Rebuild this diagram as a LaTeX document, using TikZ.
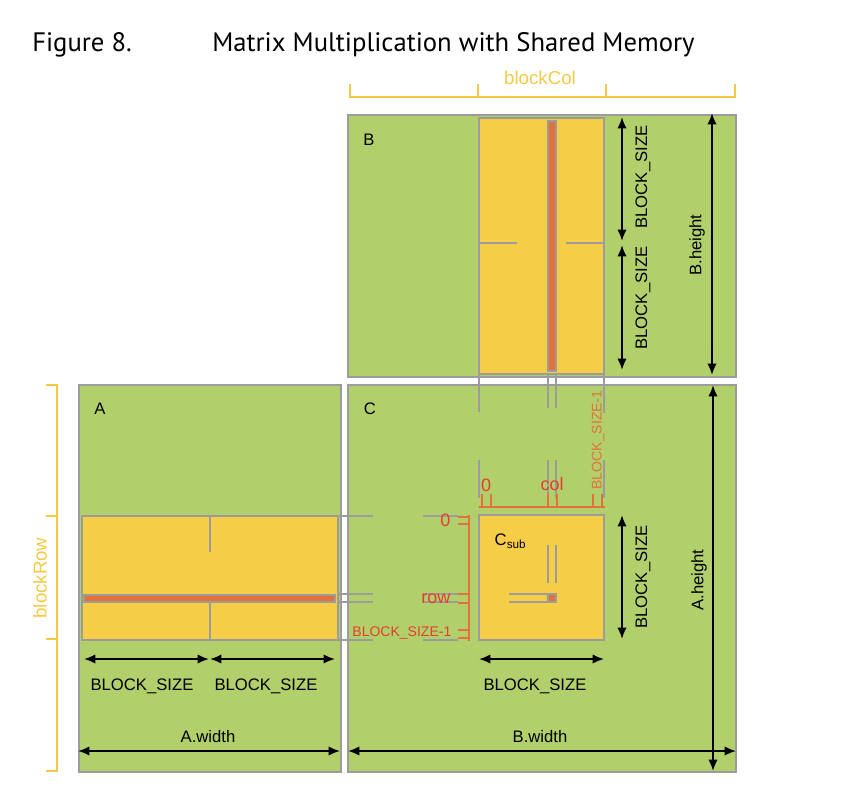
\documentclass[tikz,border=0pt]{standalone}
\usepackage{fontspec}
\setmainfont{Liberation Sans}
\newfontfamily\titlefont{PT Sans}
\usetikzlibrary{arrows.meta}
\definecolor{mgreen}{HTML}{B1CF6B}
\definecolor{myellow}{HTML}{F6CD46}
\definecolor{morange}{HTML}{E3713B}
\definecolor{mgray}{HTML}{9C9C9C}
\definecolor{mred}{HTML}{E43F30}
\definecolor{mgold}{HTML}{F6C944}

\begin{document}
\begin{tikzpicture}[x=0.75pt, y=-0.75pt, >={Latex[length=8.5pt,width=7pt]},
    mat/.style={fill=mgreen, draw=mgray, line width=1.1pt},
    blk/.style={fill=myellow, draw=mgray, line width=1.1pt},
    strip/.style={fill=morange, draw=mgray, line width=0.9pt},
    guide/.style={draw=mgray, line width=0.9pt},
    dim/.style={<->, line width=1.4pt},
    gold/.style={draw=mgold, line width=2.2pt},
    obr/.style={draw=morange, line width=2.2pt},
    otick/.style={draw=morange, line width=1.5pt},
    txt/.style={font=\fontsize{12.5}{14}\selectfont},
    idx/.style={text=mred, font=\fontsize{13.5}{15}\selectfont},
    last/.style={font=\fontsize{10.5}{12}\selectfont},
    ttl/.style={anchor=base west, inner sep=0pt, font=\titlefont\fontsize{20}{24}\selectfont}]
  \useasboundingbox (0,0) rectangle (856,800);

  % title
  \node[ttl] (fignum) at (32,51) {Figure 8.};
  \node[ttl] (title) at (212,51) {Matrix Multiplication with Shared Memory};

  % the three matrices
  \draw[mat] (348,115) rectangle (736,377);
  \draw[mat] (79,385) rectangle (341,772);
  \draw[mat] (348,385) rectangle (736,772);

  % B: column of blocks
  \draw[blk] (479,118) rectangle (604,374);
  \draw[guide] (479,243) -- (517,243) (566,243) -- (604,243);
  \draw[strip] (548,121) rectangle (556,371);

  % A: row of blocks
  \draw[blk] (82,516) rectangle (338,640);
  \draw[guide] (210,516) -- (210,552) (210,603) -- (210,640);
  \draw[strip] (84,595) rectangle (335,602);

  % C_sub
  \draw[blk] (479,515) rectangle (604,640);
  \draw[guide] (548,545) -- (548,583) (556,545) -- (556,583);
  \draw[guide] (509,594) -- (548,594) (509,602) -- (548,602);
  \draw[strip] (548,594) rectangle (556,602);

  % guide lines from B and A into C
  \foreach \x/\a in {479/412, 548/408, 556/408, 604/413}
    \draw[guide] (\x,374) -- (\x,\a) (\x,460) -- (\x,498);
  \foreach \y in {516, 594, 602, 640}
    \draw[guide] (338,\y) -- (373,\y) (423,\y) -- (458,\y);

  % index brackets
  \draw[obr] (479,507) -- (605,507);
  \foreach \x in {482, 491, 548, 557, 593, 602}
    \draw[otick] (\x,494) -- (\x,507);
  \draw[obr] (469,515) -- (469,641);
  \foreach \y in {517, 524, 594, 603, 630, 638}
    \draw[otick] (458,\y) -- (469,\y);

  % blockCol and blockRow
  \draw[gold] (349,97) -- (736,97);
  \foreach \x in {350, 478, 606, 735}
    \draw[gold] (\x,84) -- (\x,97);
  \draw[gold] (57,384) -- (57,772);
  \foreach \y in {385, 516, 639, 771}
    \draw[gold] (46,\y) -- (57,\y);

  % dimensions
  \draw[dim] (622,117) -- (622,241);
  \draw[dim] (622,245) -- (622,370);
  \draw[dim] (712,113) -- (712,375);
  \draw[dim] (622,515) -- (622,639);
  \draw[dim] (713,385) -- (713,771);
  \draw[dim] (84,659) -- (209,659);
  \draw[dim] (210,659) -- (335,659);
  \draw[dim] (479,659) -- (604,659);
  \draw[dim] (78,751) -- (340,751);
  \draw[dim] (348,751) -- (736,751);

  % labels
  \node[txt] (labB) at (369,140) {B};
  \node[txt] (labA) at (100,409) {A};
  \node[txt] (labC) at (370,409) {C};
  \node[txt, anchor=west] (csub) at (490,541) {C\textsubscript{sub}};
  \node[txt, text=mgold, font=\fontsize{14}{16}\selectfont] (bcol) at (540,78) {blockCol};
  \node[txt, text=mgold, font=\fontsize{14}{16}\selectfont, rotate=90] (brow) at (40,578) {blockRow};
  \node[txt, rotate=90] (bsB1) at (643,177) {BLOCK\_SIZE};
  \node[txt, rotate=90] (bsB2) at (643,298) {BLOCK\_SIZE};
  \node[txt, rotate=90] (bheight) at (697,245) {B.height};
  \node[txt, rotate=90] (bsC) at (643,577) {BLOCK\_SIZE};
  \node[txt, rotate=90] (aheight) at (699,580) {A.height};
  \node[txt] (bsA1) at (142,686) {BLOCK\_SIZE};
  \node[txt] (bsA2) at (266,686) {BLOCK\_SIZE};
  \node[txt] (bsC2) at (535,686) {BLOCK\_SIZE};
  \node[txt] (awidth) at (208,737) {A.width};
  \node[txt] (bwidth) at (540,737) {B.width};

  % indices inside C
  \node[idx] (c0) at (486,485) {0};
  \node[idx] (ccol) at (552,484) {col};
  \node[last, text=morange, rotate=90] (clast) at (598,440) {BLOCK\_SIZE-1};
  \node[idx, anchor=east] (r0) at (455,520) {0};
  \node[idx, anchor=east] (rrow) at (455,599) {row};
  \node[last, text=mred, anchor=east] (rlast) at (456,633) {BLOCK\_SIZE-1};
\end{tikzpicture}
\end{document}
